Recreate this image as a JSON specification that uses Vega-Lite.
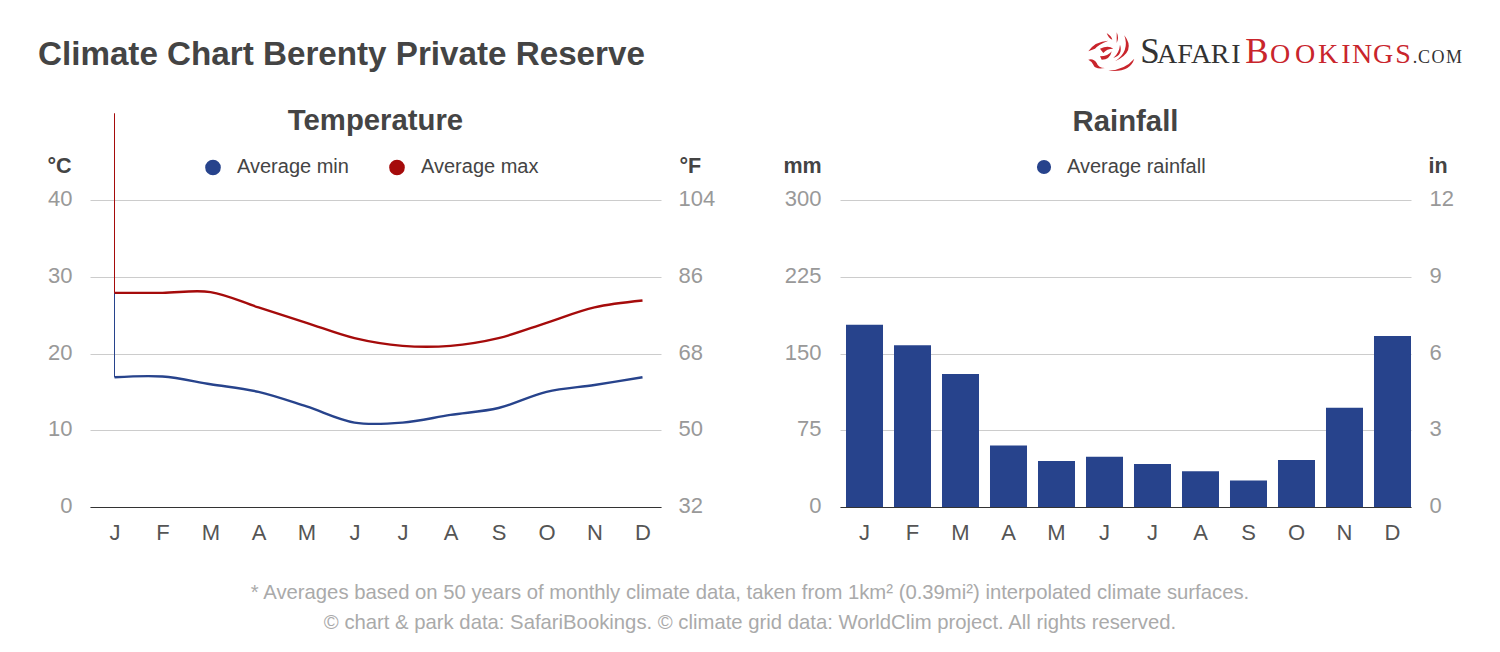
{
  "$schema": "https://vega.github.io/schema/vega-lite/v6.json",
  "padding": {"left": 38, "top": 0, "right": 0, "bottom": 0},
  "background": "white",
  "config": {
    "font": "Liberation Sans",
    "view": {"stroke": null},
    "axisX": {"title": null, "grid": false, "ticks": false, "domain": true, "domainColor": "#333333", "domainWidth": 1, "labelAngle": 0, "labelFontSize": 22, "labelColor": "#555555", "labelPadding": 15, "labelExpr": "slice(datum.label, 0, 1)"}
  },
  "title": {"text": "Climate Chart Berenty Private Reserve", "anchor": "start", "frame": "group", "dx": -52, "offset": -72, "fontSize": 33.2, "fontWeight": "bold", "color": "#444444"},
  "vconcat": [
    {
      "width": 1371,
      "height": 126,
      "data": {"values": [
        {"letter": "S", "pos": 1150, "word": "safari", "kind": "cap"},
        {"letter": "A", "pos": 1167, "word": "safari", "kind": "small"},
        {"letter": "F", "pos": 1185, "word": "safari", "kind": "small"},
        {"letter": "A", "pos": 1201, "word": "safari", "kind": "small"},
        {"letter": "R", "pos": 1220, "word": "safari", "kind": "small"},
        {"letter": "I", "pos": 1236, "word": "safari", "kind": "small"},
        {"letter": "B", "pos": 1257, "word": "bookings", "kind": "cap"},
        {"letter": "O", "pos": 1280, "word": "bookings", "kind": "small"},
        {"letter": "O", "pos": 1305, "word": "bookings", "kind": "small"},
        {"letter": "K", "pos": 1328, "word": "bookings", "kind": "small"},
        {"letter": "I", "pos": 1346, "word": "bookings", "kind": "small"},
        {"letter": "N", "pos": 1362, "word": "bookings", "kind": "small"},
        {"letter": "G", "pos": 1383, "word": "bookings", "kind": "small"},
        {"letter": "S", "pos": 1403, "word": "bookings", "kind": "small"},
        {"letter": ".", "pos": 1415, "word": "safari", "kind": "tiny"},
        {"letter": "C", "pos": 1424, "word": "safari", "kind": "tiny"},
        {"letter": "O", "pos": 1438, "word": "safari", "kind": "tiny"},
        {"letter": "M", "pos": 1454, "word": "safari", "kind": "tiny"},
        {"letter": "", "pos": 1111, "word": "lion", "kind": "tiny"}
      ]},
      "encoding": {
        "x": {"field": "pos", "type": "quantitative", "scale": {"domain": [90, 1461]}, "axis": null}
      },
      "layer": [
        {
          "transform": [{"filter": "datum.word == 'lion'"}],
          "mark": {"type": "point", "filled": true, "opacity": 1, "color": "#c9252c", "size": 4, "shape": "M13.3,-27.7Q25.7,-11.7,4,-1.7Q19,-11.7,13.3,-27.7ZM23.3,-4.3Q19,10,-2.7,7.7Q14,6.7,23.3,-4.3ZM9,-18.3Q12.3,-8.3,2.3,-5Q8.3,-10,9,-18.3ZM-22.7,-11.7Q-16,-21.7,-2.7,-22.3Q-12.7,-18.3,-16,-14.3ZM-4.3,-30Q.7,-26.7,1.3,-23.3Q-2.7,-25,-4.3,-30ZM5.7,-30.7Q8.3,-25,5.7,-20Q5.7,-25.7,5.7,-30.7ZM-22.7,-3.3Q-17.7,-5,-14.3,0Q-12.7,5,-6,5Q-16,6.7,-17.7,1.7Q-19.3,-1.7,-22.7,-3.3ZM-11,-14.3Q-2.7,-18.3,2.3,-14.3Q-4.3,-14.3,-7.7,-10ZM-11,-6.7Q-2.7,-6.7,.7,-11.7Q-1,-3.3,-9.3,-3.3Z"}
        },
        {
          "transform": [{"filter": "datum.word != 'lion'"}],
          "mark": {"type": "text", "font": "Liberation Serif", "baseline": "alphabetic", "align": "center"},
          "encoding": {
            "text": {"field": "letter"},
            "size": {"condition": [{"test": "datum.kind == 'cap'", "value": 35}, {"test": "datum.kind == 'small'", "value": 28}], "value": 18},
            "color": {"condition": {"test": "datum.word == 'bookings'", "value": "#c9252c"}, "value": "#333333"}
          }
        }
      ]
    },
    {
      "title": {"text": ["* Averages based on 50 years of monthly climate data, taken from 1km² (0.39mi²) interpolated climate surfaces.", "© chart & park data: SafariBookings. © climate grid data: WorldClim project. All rights reserved."], "orient": "bottom", "anchor": "middle", "frame": "group", "dx": 660, "offset": 40, "fontSize": 20.3, "fontWeight": "normal", "color": "#aaaaaa", "lineHeight": 30},
      "spacing": 179,
      "bounds": "flush",
      "resolve": {"scale": {"color": "independent"}},
      "hconcat": [
        {
          "width": 571,
          "height": 307,
          "title": {"text": "Temperature", "anchor": "middle", "frame": "group", "fontSize": 29.3, "fontWeight": "bold", "color": "#444444", "offset": -24},
          "data": {"values": [
            {"month": "Jan", "series": "Average min", "temp": 16.9, "tempF": 62.4},
            {"month": "Feb", "series": "Average min", "temp": 17, "tempF": 62.6},
            {"month": "Mar", "series": "Average min", "temp": 16, "tempF": 60.8},
            {"month": "Apr", "series": "Average min", "temp": 15, "tempF": 59},
            {"month": "May", "series": "Average min", "temp": 13.1, "tempF": 55.6},
            {"month": "Jun", "series": "Average min", "temp": 11, "tempF": 51.8},
            {"month": "Jul", "series": "Average min", "temp": 11, "tempF": 51.8},
            {"month": "Aug", "series": "Average min", "temp": 12, "tempF": 53.6},
            {"month": "Sep", "series": "Average min", "temp": 12.9, "tempF": 55.2},
            {"month": "Oct", "series": "Average min", "temp": 15, "tempF": 59},
            {"month": "Nov", "series": "Average min", "temp": 15.9, "tempF": 60.6},
            {"month": "Dec", "series": "Average min", "temp": 16.9, "tempF": 62.4},
            {"month": "Jan", "series": "Average max", "temp": 27.9, "tempF": 82.2},
            {"month": "Feb", "series": "Average max", "temp": 27.9, "tempF": 82.2},
            {"month": "Mar", "series": "Average max", "temp": 28, "tempF": 82.4},
            {"month": "Apr", "series": "Average max", "temp": 26, "tempF": 78.8},
            {"month": "May", "series": "Average max", "temp": 24, "tempF": 75.2},
            {"month": "Jun", "series": "Average max", "temp": 22, "tempF": 71.6},
            {"month": "Jul", "series": "Average max", "temp": 21, "tempF": 69.8},
            {"month": "Aug", "series": "Average max", "temp": 21, "tempF": 69.8},
            {"month": "Sep", "series": "Average max", "temp": 22, "tempF": 71.6},
            {"month": "Oct", "series": "Average max", "temp": 24, "tempF": 75.2},
            {"month": "Nov", "series": "Average max", "temp": 26, "tempF": 78.8},
            {"month": "Dec", "series": "Average max", "temp": 26.9, "tempF": 80.4}
          ]},
          "encoding": {
            "x": {"field": "month", "type": "nominal", "sort": ["Jan", "Feb", "Mar", "Apr", "May", "Jun", "Jul", "Aug", "Sep", "Oct", "Nov", "Dec"], "scale": {"type": "point", "padding": 0.448, "align": 0.57}}
          },
          "layer": [
            {
              "mark": {"type": "point", "filled": true, "opacity": 0.001},
              "encoding": {
                "y": {"field": "tempF", "type": "quantitative", "scale": {"domain": [32, 104], "nice": false}, "title": "°F", "axis": {"orient": "right", "values": [32, 50, 68, 86, 104], "grid": false, "domain": false, "ticks": false, "labelFontSize": 22, "labelColor": "#999999", "labelPadding": 17, "labelOffset": -1.5, "titleAngle": 0, "titleX": 18, "titleY": -34, "titleAlign": "left", "titleBaseline": "middle", "titleFontSize": 21.5, "titleFontWeight": "bold", "titleColor": "#444444"}},
                "color": {"field": "series", "type": "nominal", "scale": {"domain": ["Average min", "Average max"], "range": ["#27438c", "#a50b0b"]}, "legend": {"title": null, "orient": "none", "legendX": 113, "legendY": -43, "direction": "horizontal", "symbolType": "circle", "symbolSize": 200, "symbolOpacity": 1, "labelFontSize": 20, "labelColor": "#444444", "labelOffset": 14, "columnPadding": 37}}
              }
            },
            {
              "layer": [
                {
                  "data": {"values": [
                    {"month": "Jan", "series": "Average max", "from": 27.9, "to": 51.3},
                    {"month": "Jan", "series": "Average min", "from": 16.9, "to": 27.9}
                  ]},
                  "mark": {"type": "rule", "strokeWidth": 1},
                  "encoding": {
                    "y": {"field": "from", "type": "quantitative", "scale": {"domain": [0, 40], "nice": false}, "title": "°C", "axis": {"values": [0, 10, 20, 30, 40], "grid": true, "domain": false, "ticks": false, "gridColor": "#cccccc", "labelFontSize": 22, "labelColor": "#999999", "labelPadding": 18, "labelOffset": -1.5, "titleAngle": 0, "titleX": -43, "titleY": -34, "titleAlign": "left", "titleBaseline": "middle", "titleFontSize": 21.5, "titleFontWeight": "bold", "titleColor": "#444444"}},
                    "y2": {"field": "to"},
                    "color": {"field": "series", "type": "nominal", "legend": null, "scale": {"domain": ["Average min", "Average max"], "range": ["#27438c", "#a50b0b"]}}
                  }
                },
                {
                  "mark": {"type": "line", "interpolate": "catmull-rom", "strokeWidth": 2.4},
                  "encoding": {
                    "y": {"field": "temp", "type": "quantitative", "scale": {"domain": [0, 40], "nice": false}, "title": "°C"},
                    "color": {"field": "series", "type": "nominal", "legend": null, "scale": {"domain": ["Average min", "Average max"], "range": ["#27438c", "#a50b0b"]}}
                  }
                }
              ]
            }
          ],
          "resolve": {"scale": {"y": "independent"}, "axis": {"y": "independent"}}
        },
        {
          "width": 571,
          "height": 307,
          "title": {"text": "Rainfall", "anchor": "middle", "frame": "group", "fontSize": 29.3, "fontWeight": "bold", "color": "#444444", "offset": 18},
          "data": {"values": [
            {"month": "Jan", "series": "Average rainfall", "mm": 178, "inches": 7.12},
            {"month": "Feb", "series": "Average rainfall", "mm": 158, "inches": 6.32},
            {"month": "Mar", "series": "Average rainfall", "mm": 130, "inches": 5.2},
            {"month": "Apr", "series": "Average rainfall", "mm": 60, "inches": 2.4},
            {"month": "May", "series": "Average rainfall", "mm": 45, "inches": 1.8},
            {"month": "Jun", "series": "Average rainfall", "mm": 49, "inches": 1.96},
            {"month": "Jul", "series": "Average rainfall", "mm": 42, "inches": 1.68},
            {"month": "Aug", "series": "Average rainfall", "mm": 35, "inches": 1.4},
            {"month": "Sep", "series": "Average rainfall", "mm": 26, "inches": 1.04},
            {"month": "Oct", "series": "Average rainfall", "mm": 46, "inches": 1.84},
            {"month": "Nov", "series": "Average rainfall", "mm": 97, "inches": 3.88},
            {"month": "Dec", "series": "Average rainfall", "mm": 167, "inches": 6.68}
          ]},
          "encoding": {
            "x": {"field": "month", "type": "nominal", "sort": ["Jan", "Feb", "Mar", "Apr", "May", "Jun", "Jul", "Aug", "Sep", "Oct", "Nov", "Dec"], "scale": {"type": "band", "paddingInner": 0.229, "paddingOuter": 0.0625, "align": 1}}
          },
          "layer": [
            {
              "mark": {"type": "bar"},
              "encoding": {
                "y": {"field": "mm", "type": "quantitative", "scale": {"domain": [0, 300], "nice": false}, "title": "mm", "axis": {"values": [0, 75, 150, 225, 300], "domain": false, "ticks": false, "gridColor": "#cccccc", "labelFontSize": 22, "labelColor": "#999999", "labelPadding": 19, "labelOffset": -1.5, "titleAngle": 0, "titleX": -57, "titleY": -34, "titleAlign": "left", "titleBaseline": "middle", "titleFontSize": 21.5, "titleFontWeight": "bold", "titleColor": "#444444"}},
                "color": {"field": "series", "type": "nominal", "scale": {"domain": ["Average rainfall"], "range": ["#27438c"]}, "legend": {"title": null, "orient": "none", "legendX": 194, "legendY": -43, "direction": "horizontal", "symbolType": "circle", "symbolSize": 200, "labelFontSize": 20, "labelColor": "#444444", "labelOffset": 13}}
              }
            },
            {
              "mark": {"type": "bar", "opacity": 0},
              "encoding": {
                "y": {"field": "inches", "type": "quantitative", "scale": {"domain": [0, 12], "nice": false}, "title": "in", "axis": {"orient": "right", "values": [0, 3, 6, 9, 12], "grid": false, "domain": false, "ticks": false, "labelFontSize": 22, "labelColor": "#999999", "labelPadding": 18, "labelOffset": -1.5, "titleAngle": 0, "titleX": 17, "titleY": -34, "titleAlign": "left", "titleBaseline": "middle", "titleFontSize": 21.5, "titleFontWeight": "bold", "titleColor": "#444444"}}
              }
            }
          ],
          "resolve": {"scale": {"y": "independent"}, "axis": {"y": "independent"}}
        }
      ]
    }
  ],
  "spacing": 74,
  "bounds": "flush"
}
